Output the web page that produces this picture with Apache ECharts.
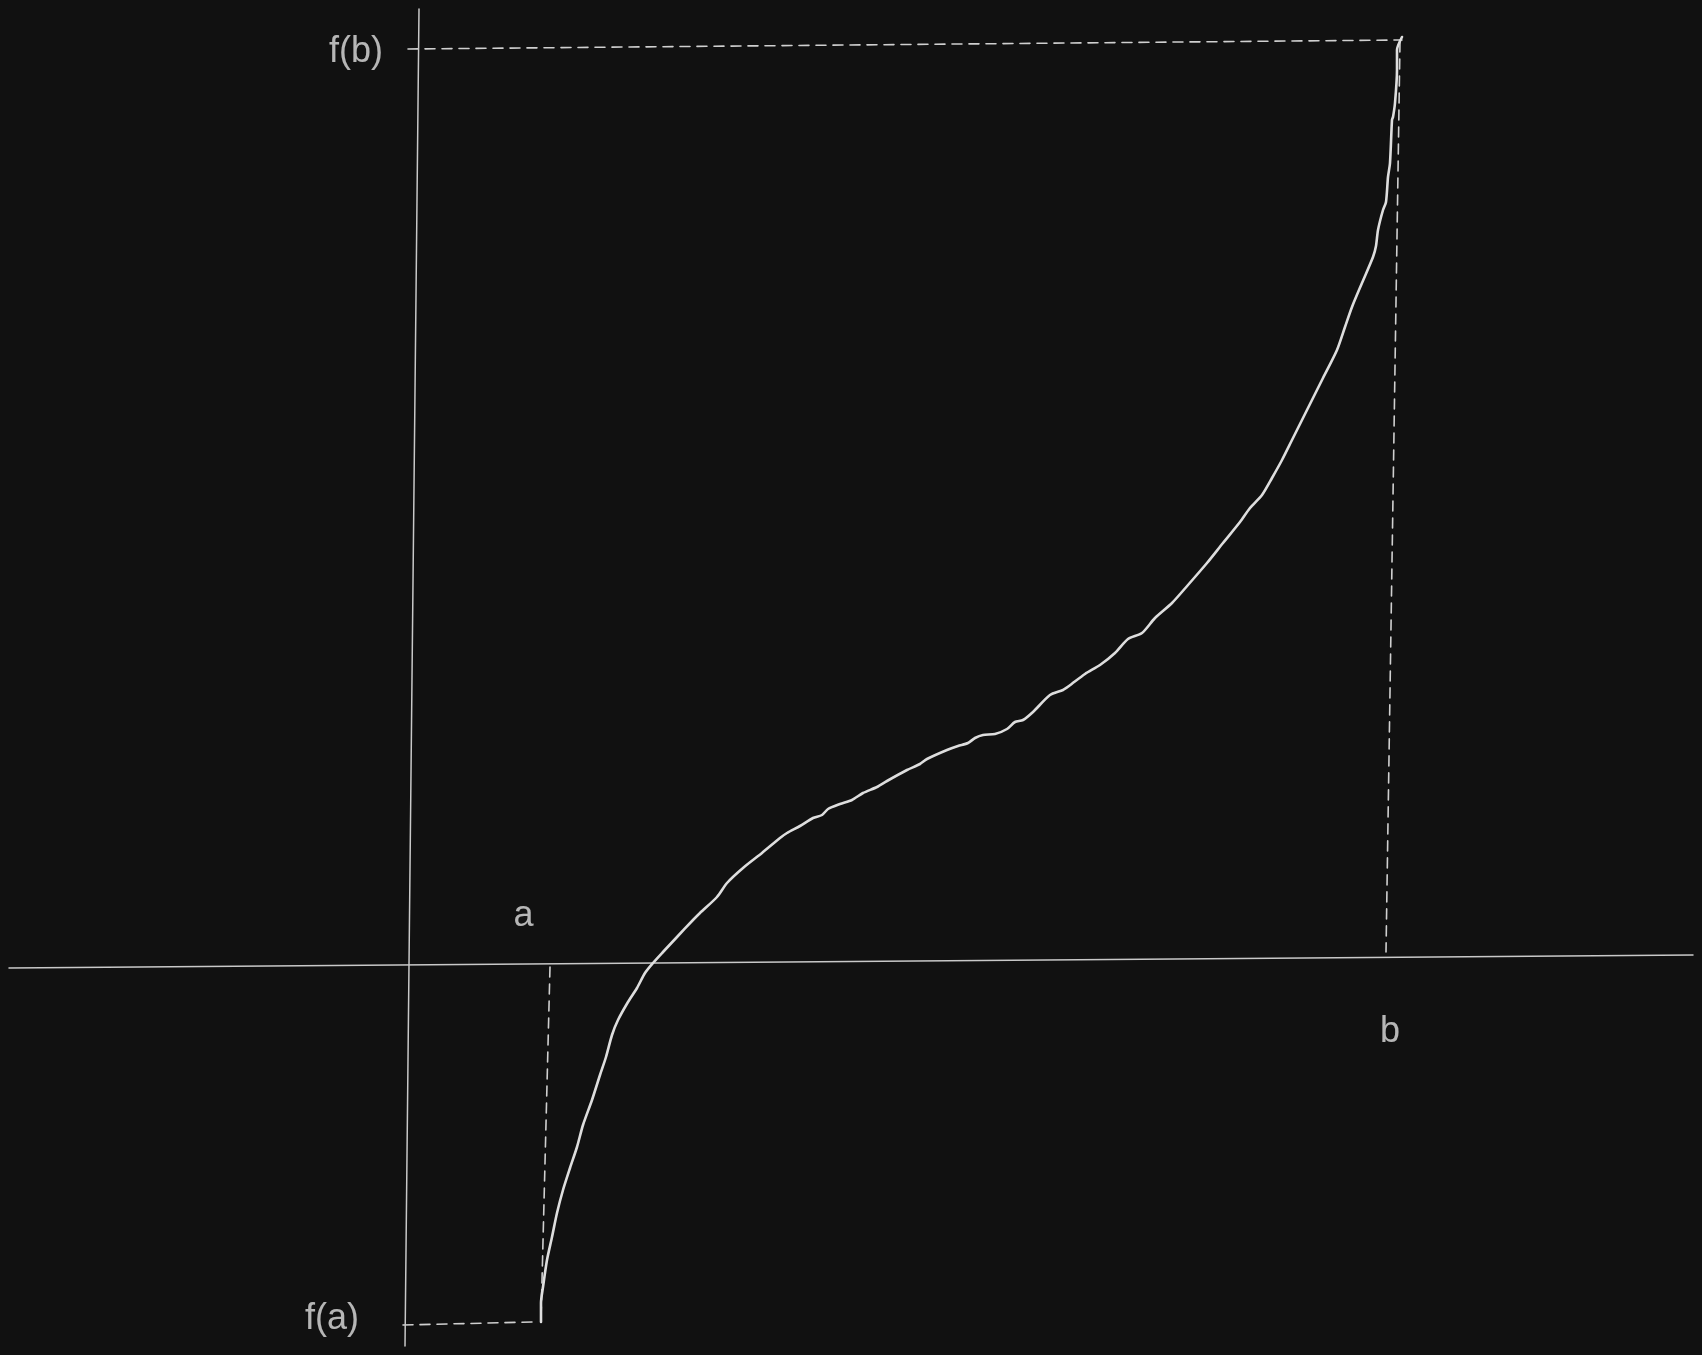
<!DOCTYPE html>
<html>
<head>
<meta charset="utf-8">
<script src="https://cdn.jsdelivr.net/npm/echarts@6/dist/echarts.min.js"></script>
<style>
html,body{margin:0;padding:0;background:#111111;}
#c{width:1702px;height:1355px;}
</style>
</head>
<body>
<div id="c"></div>
<script>
// Curve f(x) (origin at the axes crossing, y up)
var curvePoints = [
  [132,-358],[132,-339],[134,-323],[138,-296],[143,-273],[148,-249],[154,-226],[161,-204],
  [168,-183],[174,-161],[183,-136],[191,-111],[197,-93],[203,-71],[209,-56],[219,-38],
  [228,-24],[236,-9],[244,1],[254,12],[268,27],[284,44],[291,51],[308,67],[318,81],
  [334,96],[353,111],[371,126],[378,131],[391,138],[404,146],[413,149],[419,155],
  [431,160],[443,164],[454,171],[468,177],[478,183],[498,194],[511,200],[518,205],
  [538,214],[549,218],[559,221],[566,226],[574,229],[586,230],[598,235],[606,242],
  [614,244],[624,252],[641,269],[654,274],[660,278],[676,290],[691,299],[706,311],
  [719,325],[733,331],[746,346],[763,361],[779,379],[798,401],[814,421],[831,442],
  [841,456],[853,469],[863,486],[873,504],[883,524],[898,554],[914,586],[928,614],
  [936,637],[943,657],[953,681],[964,707],[967,718],[969,734],[974,754],[977,762],
  [979,787],[981,801],[983,844],[984,847],[986,861],[988,894],[988,914],[993,927]
];
// Axis lines (hand drawn, slightly tilted)
var xAxisLine = [[-400,-4],[1284,9]];
var yAxisLine = [[10,955],[-4,-382]];
// Dashed guide lines
var guideFb = [[-1,915],[993,924]];
var guideB  = [[991,922],[977,12]];
var guideA  = [[141,-3],[132,-356]];
var guideFa = [[-6,-361],[124,-358]];
// Text labels
var labelNames = ['f(b)','f(a)','a','b'];
var labelPos = [[-53,911.5],[-77,-355.5],[114.5,47.5],[981,-68.5]];

var chart = echarts.init(document.getElementById('c'), null, {renderer:'canvas'});
var textColor = '#e0e0e0';
function lineSeries(data, color, width, dashed, smooth){
  return {
    type:'line', data:data, showSymbol:false, symbol:'none', silent:true,
    smooth: smooth || false,
    lineStyle:{color:color, width:width, type: dashed ? [10,7] : 'solid', cap:'round', join:'round'},
    z: dashed ? 2 : 3, animation:false
  };
}
var labelData = labelNames.map(function(n,i){ return {name:n, value:labelPos[i]}; });
var option = {
  backgroundColor:'#111111',
  animation:false,
  grid:{left:0,right:0,top:0,bottom:0,containLabel:false},
  xAxis:{type:'value', min:-409, max:1293, show:false},
  yAxis:{type:'value', min:-391, max:964, show:false},
  series:[
    lineSeries(xAxisLine,'#c9c9c9',1.5,false),
    lineSeries(yAxisLine,'#c9c9c9',1.5,false),
    lineSeries(guideFb,'#d0d0d0',1.6,true),
    lineSeries(guideB,'#d0d0d0',1.6,true),
    lineSeries(guideA,'#d0d0d0',1.6,true),
    lineSeries(guideFa,'#d0d0d0',1.6,true),
    lineSeries(curvePoints,'#dedede',2.6,false,0.25),
    {
      type:'scatter', data:labelData, symbolSize:0, silent:true, animation:false,
      label:{show:true, position:'inside', formatter:function(p){return p.name;},
        color:textColor, fontSize:36, fontFamily:'"Liberation Sans", Arial, sans-serif',
        align:'center', verticalAlign:'middle'}
    }
  ]
};
chart.setOption(option);
</script>
</body>
</html>
